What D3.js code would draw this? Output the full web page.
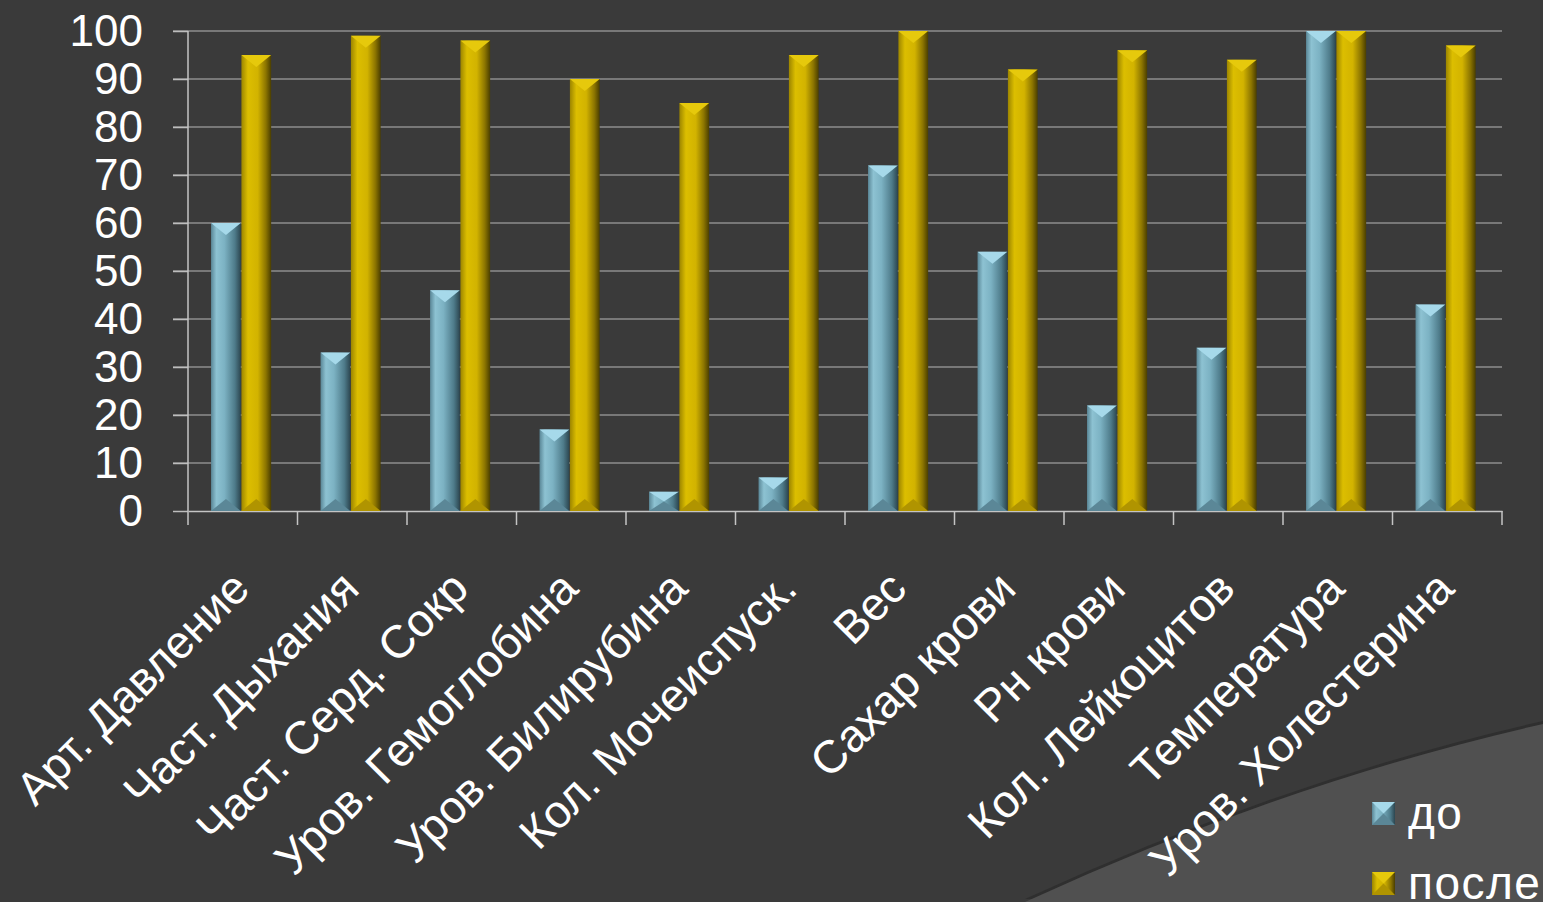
<!DOCTYPE html>
<html>
<head>
<meta charset="utf-8">
<script src="https://cdn.jsdelivr.net/npm/d3@7"></script>
<style>
  html, body { margin: 0; padding: 0; background: #3a3a3a; overflow: hidden; }
  svg { display: block; }
</style>
</head>
<body>
<svg id="chart"></svg>
<script>
// chart data
const categories = [
  "Арт. Давление", "Част. Дыхания", "Част. Серд. Сокр", "Уров. Гемоглобина",
  "Уров. Билирубина", "Кол. Мочеиспуск.", "Вес", "Сахар крови",
  "Рн крови", "Кол. Лейкоцитов", "Температура", "Уров. Холестерина"
];
const seriesNames = ["до", "после"];
const before = [60, 33, 46, 17, 4, 7, 72, 54, 22, 34, 100, 43];
const after = [95, 99, 98, 90, 85, 95, 100, 92, 96, 94, 100, 97];
const yTicks = [0, 10, 20, 30, 40, 50, 60, 70, 80, 90, 100];

const W = 1543, H = 902;
const margin = { top: 31, right: 41, bottom: 391, left: 188 };
const width = W - margin.left - margin.right,
      height = H - margin.top - margin.bottom;

const svg = d3.select("#chart").attr("width", W).attr("height", H);

// bar look for each series
const looks = {
  "до": {
    stops: [["0%", "#5a8797"], ["18%", "#8dc2d2"], ["45%", "#7cb2c3"], ["80%", "#4e7b8a"], ["100%", "#2c4650"]],
    top: "#a6d9ea", bottom: "#5b8797"
  },
  "после": {
    stops: [["0%", "#9c8500"], ["22%", "#dcbe00"], ["55%", "#d2b300"], ["82%", "#8c7500"], ["100%", "#4a3e00"]],
    top: "#e6c90c", bottom: "#b09400"
  }
};

const defs = svg.append("defs");
seriesNames.forEach((s, i) => {
  const g = defs.append("linearGradient").attr("id", "grad" + i)
    .attr("x1", "0%").attr("x2", "100%").attr("y1", "0%").attr("y2", "0%");
  looks[s].stops.forEach(st => g.append("stop").attr("offset", st[0]).attr("stop-color", st[1]));
});

// background and the lighter swoosh at bottom right
svg.append("rect").attr("width", W).attr("height", H).attr("fill", "#3a3a3a");
const swoosh = `M1025,${H} Q1286,782 ${W},724 L${W},${H} Z`;
svg.append("path").attr("d", swoosh).attr("fill", "#2f2f2f").attr("transform", "translate(0,-3)");
svg.append("path").attr("d", swoosh).attr("fill", "#505050");

const chart = svg.append("g").attr("transform", `translate(${margin.left},${margin.top})`);

const x = d3.scaleBand().domain(categories).range([0, width]).paddingInner(0).paddingOuter(0);
const x1 = d3.scaleBand().domain(seriesNames)
  .range([x.bandwidth() * 0.205, x.bandwidth() * 0.765]).padding(0.02);
const y = d3.scaleLinear().domain([0, 100]).range([height, 0]);

// horizontal grid
chart.append("g")
  .selectAll("line")
  .data(yTicks.filter(d => d > 0))
  .enter().append("line")
  .attr("x1", -15).attr("x2", width)
  .attr("y1", d => y(d)).attr("y2", d => y(d))
  .attr("stroke", "#8e8e8e").attr("stroke-width", 1.5);

// y axis
const yAxis = d3.axisLeft(y).tickValues(yTicks).tickSize(15).tickPadding(30);
const yg = chart.append("g").call(yAxis);
yg.select(".domain").remove();
yg.selectAll("line").attr("stroke", "#bdbdbd").attr("stroke-width", 1.5);
yg.selectAll("text")
  .attr("fill", "#ffffff")
  .style("font-size", "44px")
  .style("font-family", "Arial, 'Liberation Sans', sans-serif");
chart.append("line")
  .attr("x1", 0).attr("x2", 0).attr("y1", 0).attr("y2", height + 14)
  .attr("stroke", "#c4c4c4").attr("stroke-width", 1.5);

// x axis with category separators
const xAxis = d3.axisBottom(x).tickSize(0).tickFormat("");
const xg = chart.append("g").attr("transform", `translate(0,${height})`).call(xAxis);
xg.select(".domain").attr("stroke", "#c4c4c4").attr("stroke-width", 1.5);
chart.append("g").attr("transform", `translate(0,${height})`)
  .selectAll("line")
  .data(categories.slice(1).concat(["end"]))
  .enter().append("line")
  .attr("x1", d => d === "end" ? width : x(d))
  .attr("x2", d => d === "end" ? width : x(d))
  .attr("y1", 0).attr("y2", 14)
  .attr("stroke", "#c4c4c4").attr("stroke-width", 1.5);

// rotated category labels
chart.append("g")
  .selectAll("text")
  .data(categories)
  .enter().append("text")
  .attr("transform", d => `translate(${x(d) + x.bandwidth() / 2 + 9},${height + 80}) rotate(-45)`)
  .attr("text-anchor", "end")
  .attr("fill", "#ffffff")
  .style("font-size", "46px")
  .style("font-family", "Arial, 'Liberation Sans', sans-serif")
  .text(d => d);

// beveled bars
const rows = categories.map((c, i) => ({ cat: c, values: [before[i], after[i]] }));
const groups = chart.append("g").selectAll("g")
  .data(rows)
  .enter().append("g")
  .attr("transform", d => `translate(${x(d.cat)},0)`);

const bars = groups.selectAll("g")
  .data(d => d.values.map((v, i) => ({ s: seriesNames[i], i: i, v: v })))
  .enter().append("g");

bars.each(function(d) {
  const g = d3.select(this);
  const x0 = x1(d.s), bw = x1.bandwidth(), x2 = x0 + bw, xm = x0 + bw / 2;
  const yt = y(d.v), yb = y(0);
  const b = Math.min(12, (yb - yt) / 2);
  g.append("rect")
    .attr("x", x0).attr("y", yt).attr("width", bw).attr("height", yb - yt)
    .attr("fill", `url(#grad${d.i})`);
  g.append("path")
    .attr("d", `M${x0},${yt} L${x2},${yt} L${xm},${yt + b} Z`)
    .attr("fill", looks[d.s].top);
  g.append("path")
    .attr("d", `M${x0},${yb} L${x2},${yb} L${xm},${yb - b} Z`)
    .attr("fill", looks[d.s].bottom);
});

// legend
const legend = svg.append("g").attr("transform", "translate(1372,802)");
seriesNames.forEach((s, i) => {
  const g = legend.append("g").attr("transform", `translate(0,${i * 70})`);
  const sz = 23, c = sz / 2;
  g.append("rect").attr("width", sz).attr("height", sz).attr("fill", `url(#grad${i})`);
  g.append("path").attr("d", `M0,0 L${sz},0 L${c},${c} Z`).attr("fill", looks[s].top);
  g.append("path").attr("d", `M0,${sz} L${sz},${sz} L${c},${c} Z`).attr("fill", looks[s].bottom);
  g.append("text")
    .attr("x", 36).attr("y", 27)
    .attr("fill", "#ffffff")
    .style("font-size", "46px")
    .style("letter-spacing", "1.5px")
    .style("font-family", "Arial, 'Liberation Sans', sans-serif")
    .text(s);
});
</script>
</body>
</html>
